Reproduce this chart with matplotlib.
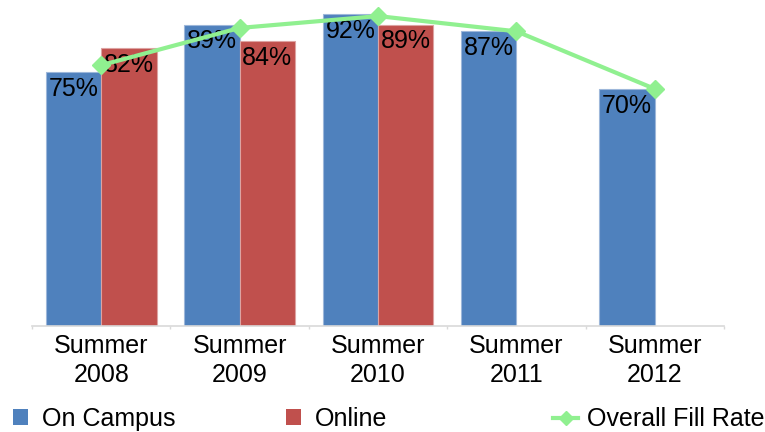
import numpy as np
import matplotlib
matplotlib.use("Agg")
import matplotlib.pyplot as plt
from matplotlib.patches import Patch
from matplotlib.lines import Line2D

plt.rcParams['font.family'] = ['Liberation Sans', 'DejaVu Sans']

years = ['Summer\n2008', 'Summer\n2009', 'Summer\n2010', 'Summer\n2011', 'Summer\n2012']
on_campus = [75, 89, 92, 87, 70]
online = [82, 84, 89, np.nan, np.nan]
overall = [77, 88, 91.5, 87, 70]

blue = '#4F81BD'
red = '#C0504D'
green = '#90F090'
fs = 18

fig = plt.figure(figsize=(7.65, 4.32), dpi=100)
ax = fig.add_axes([32 / 765, 106 / 432, 692 / 765, 326 / 432])

x = np.arange(len(years))
w = 0.4
b1 = ax.bar(x - w / 2, on_campus, w, color=blue, edgecolor='#9DB7DA', linewidth=0.8, zorder=2)
b2 = ax.bar(x + w / 2, online, w, color=red, edgecolor='#DDA3A2', linewidth=0.8, zorder=2)

for bars, vals in ((b1, on_campus), (b2, online)):
    for rect, v in zip(bars, vals):
        if np.isnan(v):
            continue
        ax.annotate(f'{v:.0f}%', (rect.get_x() + rect.get_width() / 2, v),
                    xytext=(0, -3.5), textcoords='offset points',
                    ha='center', va='top', fontsize=fs, color='black', zorder=3)

ax.plot(x, overall, color=green, lw=3, marker='D', markersize=9, zorder=4)

ax.set_xlim(-0.5, len(years) - 0.5)
ax.set_ylim(0, 96.25)
ax.set_yticks([])
ax.set_xticks(x)
ax.set_xticklabels(years, fontsize=fs, linespacing=1.25)
ax.tick_params(axis='x', which='major', length=0, pad=6)
ax.set_xticks(np.arange(-0.5, len(years)), minor=True)
ax.tick_params(axis='x', which='minor', length=2, color='#D9D9D9', width=1)
for s in ('top', 'right', 'left'):
    ax.spines[s].set_visible(False)
ax.spines['bottom'].set_color('#D9D9D9')
ax.spines['bottom'].set_linewidth(1.2)

legend_items = [
    (Patch(facecolor=blue), 'On Campus', 13, 0.6, 0.55),
    (Patch(facecolor=red), 'Online', 286, 0.6, 0.55),
    (Line2D([], [], color=green, lw=3, marker='D', markersize=7), 'Overall Fill Rate', 553, 1.0, 0.35),
]
for handle, label, px, hl, tp in legend_items:
    fig.legend([handle], [label], loc='center left', bbox_to_anchor=(px / 765, 0.03),
               frameon=False, fontsize=fs, borderpad=0, borderaxespad=0,
               handlelength=hl, handleheight=0.6, handletextpad=tp)

fig.savefig('out.png', dpi=100)
